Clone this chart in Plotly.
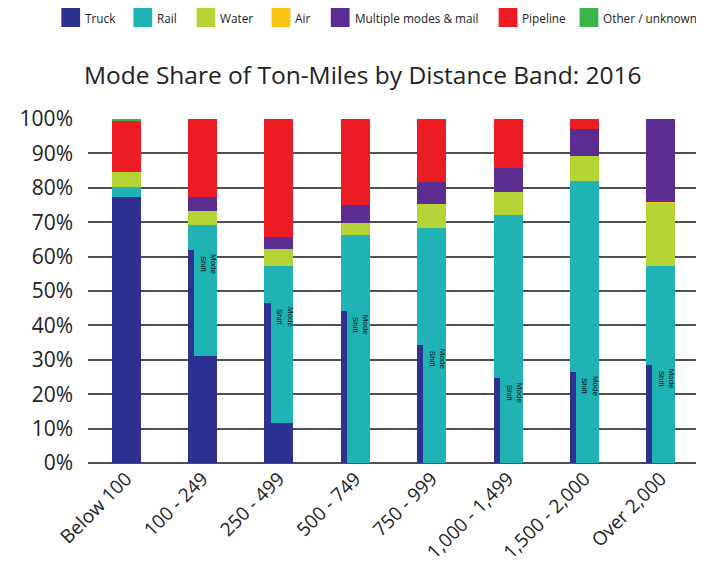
import numpy as np
import plotly.graph_objects as go

categories = ["Below 100", "100 - 249", "250 - 499", "500 - 749", "750 - 999",
              "1,000 - 1,499", "1,500 - 2,000", "Over 2,000"]
truck = [77.4, 31.1, 11.7, 0, 0, 0, 0, 0]
rail = [2.7, 38.1, 45.7, 66.3, 68.4, 72.1, 82.1, 57.4]
water = [4.4, 4.1, 4.8, 3.6, 6.9, 6.6, 7.2, 18.4]
air = [0, 0, 0, 0, 0, 0, 0, 0.2]
multi = [0, 4.1, 3.6, 5.1, 6.5, 7.1, 7.7, 24.0]
pipeline = [15.0, 22.6, 34.2, 25.0, 18.2, 14.2, 3.0, 0]
other = [0.5, 0, 0, 0, 0, 0, 0, 0]
# truck share before mode shift (top of the narrow truck stripe)
shift_top = [None, 61.9, 46.4, 44.3, 34.3, 24.6, 26.5, 28.5]

series_names = ["Truck", "Rail", "Water", "Air", "Multiple modes & mail",
                "Pipeline", "Other / unknown"]
series_values = [truck, rail, water, air, multi, pipeline, other]
series_colors = ["#2e3192", "#1fb3b5", "#b4d335", "#fbc511", "#5c2d91",
                 "#ed1c24", "#3bb54a"]

BAR_W = 0.38
STRIPE_W = 0.08
FONT = "Open Sans"

# plot area (figure pixels)
W, H = 704, 580
ML, MR, MT, MB = 72, 13, 111, 125
PW, PH = W - ML - MR, H - MT - MB

fig = go.Figure()
base = np.zeros(len(categories))
for name, vals, col in zip(series_names, series_values, series_colors):
    v = np.array(vals, dtype=float)
    fig.add_trace(go.Bar(x=categories, y=v, base=base.copy(), width=BAR_W,
                         marker=dict(color=col, line=dict(width=0)),
                         name=name, showlegend=False))
    base = base + v

# narrow truck stripe (mode shift)
cats_s = [c for c, s in zip(categories, shift_top) if s is not None]
tr_s = [t for t, s in zip(truck, shift_top) if s is not None]
sh_s = [s for s in shift_top if s is not None]
fig.add_trace(go.Bar(x=cats_s, y=np.array(sh_s) - np.array(tr_s), base=tr_s,
                     width=STRIPE_W, offset=-BAR_W / 2,
                     marker=dict(color="#2e3192", line=dict(width=0)),
                     showlegend=False))

for c, s in zip(cats_s, sh_s):
    fig.add_annotation(x=c, y=s, text="Mode<br>Shift", textangle=90, showarrow=False,
                       xanchor="center", yanchor="top", xshift=6, yshift=-2,
                       font=dict(family="Arial", size=8, color="#111"))

# legend row (drawn as a row of swatches across the top)
leg_left = [45, 118, 182, 258, 318, 488, 570]  # figure px
SW = 19
leg_top = 0  # figure px (top of swatch)
for xl, name, col in zip(leg_left, series_names, series_colors):
    x0 = (xl - ML) / PW
    x1 = (xl + SW - ML) / PW
    y0 = (H - MB - (leg_top + SW)) / PH
    y1 = (H - MB - leg_top) / PH
    fig.add_shape(type="rect", xref="paper", yref="paper", x0=x0, x1=x1,
                  y0=y0, y1=y1, fillcolor=col, line=dict(width=0))
    fig.add_annotation(xref="paper", yref="paper", x=x1, y=(y0 + y1) / 2,
                       text=name, showarrow=False, xanchor="left", yanchor="middle",
                       xshift=3, font=dict(family=FONT, size=11.8, color="#222"))

fig.update_layout(
    width=W, height=H,
    barmode="overlay",
    plot_bgcolor="white", paper_bgcolor="white",
    margin=dict(l=ML, r=MR, t=MT, b=MB),
    font=dict(family=FONT, color="#222"),
    title=dict(text="Mode Share of Ton-Miles by Distance Band: 2016",
               x=0.504, xanchor="center", y=1 - 67 / H, yanchor="middle",
               font=dict(family=FONT, size=24.5, color="#222")),
    showlegend=False,
    bargap=0,
)
fig.update_yaxes(range=[0, 100], tickvals=list(range(0, 101, 10)),
                 ticktext=[f"{v}%" for v in range(0, 101, 10)],
                 showgrid=True, gridcolor="#505050", gridwidth=1.8,
                 zeroline=True, zerolinecolor="#505050", zerolinewidth=1.8,
                 tickfont=dict(family=FONT, size=21, color="#222"),
                 ticks="", ticklabelstandoff=14)
fig.update_xaxes(tickangle=-45, tickfont=dict(family=FONT, size=19, color="#222"),
                 showgrid=False, showline=False, ticks="", range=[-0.5, 7.5])

fig.write_html("out.html")
